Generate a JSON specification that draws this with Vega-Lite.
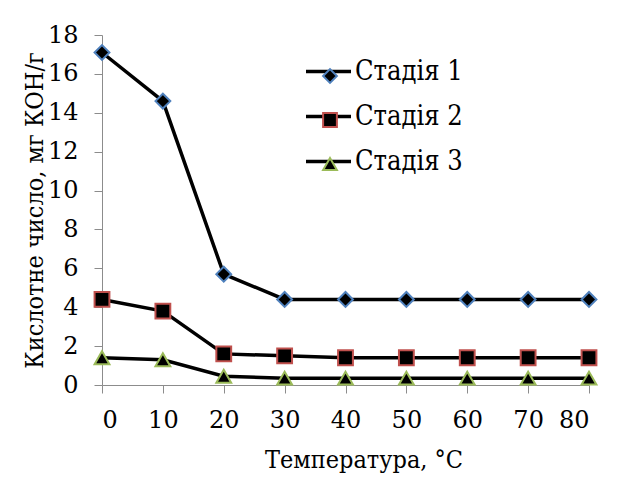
{
  "$schema": "https://vega.github.io/schema/vega-lite/v6.json",
  "width": 487,
  "height": 350,
  "autosize": {"type": "none"},
  "padding": {"left": 102, "top": 35, "right": 30, "bottom": 96},
  "background": "white",
  "config": {
    "view": {"stroke": null},
    "font": "DejaVu Serif",
    "axis": {
      "grid": false,
      "domainColor": "#8c8c8c",
      "tickColor": "#8c8c8c",
      "domainWidth": 1,
      "tickWidth": 1,
      "tickSize": 8,
      "labelFont": "DejaVu Serif",
      "titleFont": "DejaVu Serif Condensed",
      "labelColor": "black",
      "titleColor": "black",
      "labelFontSize": 24,
      "titleFontSize": 25,
      "titleFontWeight": "normal"
    }
  },
  "data": {
    "values": [
      {"t": 0, "s": "Стадія 1", "v": 17.1},
      {"t": 10, "s": "Стадія 1", "v": 14.6},
      {"t": 20, "s": "Стадія 1", "v": 5.7},
      {"t": 30, "s": "Стадія 1", "v": 4.4},
      {"t": 40, "s": "Стадія 1", "v": 4.4},
      {"t": 50, "s": "Стадія 1", "v": 4.4},
      {"t": 60, "s": "Стадія 1", "v": 4.4},
      {"t": 70, "s": "Стадія 1", "v": 4.4},
      {"t": 80, "s": "Стадія 1", "v": 4.4},
      {"t": 0, "s": "Стадія 2", "v": 4.4},
      {"t": 10, "s": "Стадія 2", "v": 3.8},
      {"t": 20, "s": "Стадія 2", "v": 1.6},
      {"t": 30, "s": "Стадія 2", "v": 1.5},
      {"t": 40, "s": "Стадія 2", "v": 1.4},
      {"t": 50, "s": "Стадія 2", "v": 1.4},
      {"t": 60, "s": "Стадія 2", "v": 1.4},
      {"t": 70, "s": "Стадія 2", "v": 1.4},
      {"t": 80, "s": "Стадія 2", "v": 1.4},
      {"t": 0, "s": "Стадія 3", "v": 1.4},
      {"t": 10, "s": "Стадія 3", "v": 1.3},
      {"t": 20, "s": "Стадія 3", "v": 0.45},
      {"t": 30, "s": "Стадія 3", "v": 0.35},
      {"t": 40, "s": "Стадія 3", "v": 0.35},
      {"t": 50, "s": "Стадія 3", "v": 0.35},
      {"t": 60, "s": "Стадія 3", "v": 0.35},
      {"t": 70, "s": "Стадія 3", "v": 0.35},
      {"t": 80, "s": "Стадія 3", "v": 0.35}
    ]
  },
  "encoding": {
    "x": {
      "field": "t",
      "type": "quantitative",
      "scale": {"domain": [0, 80], "nice": false, "zero": false},
      "axis": {
        "title": "Температура, °C",
        "values": [0, 10, 20, 30, 40, 50, 60, 70, 80],
        "labelPadding": 15,
        "titleX": 261.5,
        "titleY": 82,
        "titleBaseline": "alphabetic",
        "titleAlign": "center"
      }
    },
    "y": {
      "field": "v",
      "type": "quantitative",
      "scale": {"domain": [0, 18], "nice": false},
      "axis": {
        "title": "Кислотне число, мг КОН/г",
        "values": [0, 2, 4, 6, 8, 10, 12, 14, 16, 18],
        "labelPadding": 16,
        "titleX": -60,
        "titleBaseline": "alphabetic"
      }
    }
  },
  "layer": [
    {
      "mark": {"type": "line", "color": "black", "strokeWidth": 3.5},
      "encoding": {
        "color": {
          "field": "s",
          "type": "nominal",
          "scale": {"domain": ["Стадія 1", "Стадія 2", "Стадія 3"], "range": ["black", "black", "black"]},
          "legend": {
            "orient": "none",
            "legendX": 202,
            "legendY": 12,
            "title": null,
            "padding": 0,
            "symbolType": "stroke",
            "symbolSize": 2025,
            "symbolStrokeWidth": 3.5,
            "symbolStrokeColor": "black",
            "labelFont": "DejaVu Serif Condensed",
            "labelFontSize": 27,
            "labelColor": "black",
            "labelOffset": 2,
            "rowPadding": 7,
            "zindex": 0
          }
        }
      }
    },
    {
      "mark": {"type": "point", "filled": true, "fill": "black", "strokeWidth": 2, "size": 220, "opacity": 1},
      "encoding": {
        "shape": {
          "field": "s",
          "type": "nominal",
          "scale": {"range": ["diamond", "square", "triangle-up"]},
          "legend": {
            "orient": "none",
            "legendX": 214,
            "legendY": 27,
            "title": null,
            "padding": 0,
            "symbolSize": 190,
            "symbolStrokeWidth": 2,
            "symbolFillColor": "black",
            "symbolOpacity": 1,
            "labelExpr": "''",
            "labelFontSize": 28,
            "labelOffset": 0,
            "rowPadding": 16,
            "zindex": 1
          }
        },
        "stroke": {
          "field": "s",
          "type": "nominal",
          "scale": {"range": ["#4f81bd", "#c0504d", "#9bbb59"]},
          "legend": {
            "orient": "none",
            "legendX": 214,
            "legendY": 27,
            "title": null,
            "padding": 0,
            "symbolSize": 190,
            "symbolStrokeWidth": 2,
            "symbolFillColor": "black",
            "symbolOpacity": 1,
            "labelExpr": "''",
            "labelFontSize": 28,
            "labelOffset": 0,
            "rowPadding": 16,
            "zindex": 1
          }
        }
      }
    }
  ]
}
